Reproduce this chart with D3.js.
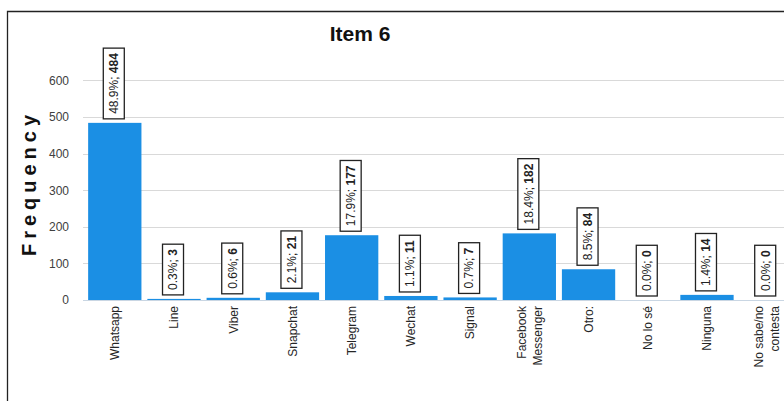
<html>
<head>
  <script src="https://d3js.org/d3.v7.min.js"></script>
  <style>
    body { margin: 0; padding: 0; background: #fff; }
    text { font-family: "Liberation Sans", Arial, sans-serif; }
  </style>
</head>
<body>
  <div id="chart"></div>
  <script>
// data
const categories = ["Whatsapp", "Line", "Viber", "Snapchat", "Telegram", "Wechat", "Signal",
  "Facebook\nMessenger", "Otro:", "No lo sé", "Ninguna", "No sabe/no\ncontesta"];
const counts = [484, 3, 6, 21, 177, 11, 7, 182, 84, 0, 14, 0];
const percents = ["48.9%", "0.3%", "0.6%", "2.1%", "17.9%", "1.1%", "0.7%", "18.4%", "8.5%", "0.0%", "1.4%", "0.0%"];
const yTicks = [0, 100, 200, 300, 400, 500, 600];

const width = 784, height = 401;
const barColor = "#1b8fe4";

const svg = d3.select("#chart").append("svg")
  .attr("width", width)
  .attr("height", height);

svg.append("rect").attr("width", width).attr("height", height).attr("fill", "#fff");

// outer frame (cut off on the right and bottom)
svg.append("path")
  .attr("d", "M7.5,401 V11.5 H784")
  .attr("fill", "none")
  .attr("stroke", "#222")
  .attr("stroke-width", 1.3);

const x = d3.scaleBand()
  .domain(categories)
  .range([84, 797])
  .paddingInner(0.1)
  .paddingOuter(0.07);

const y = d3.scaleLinear()
  .domain([0, 600])
  .range([300, 80.4]);

// gridlines
svg.append("g")
  .selectAll("line")
  .data(yTicks)
  .enter()
  .append("line")
  .attr("x1", 83)
  .attr("x2", width)
  .attr("y1", d => Math.round(y(d)) + 0.5)
  .attr("y2", d => Math.round(y(d)) + 0.5)
  .attr("stroke", d => d === 0 ? "#c9d6e3" : "#d9d9d9")
  .attr("stroke-width", 1);

// y axis tick labels
const yAxis = d3.axisLeft(y).tickValues(yTicks).tickSize(0).tickPadding(0);
const gy = svg.append("g")
  .attr("transform", "translate(69,0)")
  .call(yAxis);
gy.select(".domain").remove();
gy.selectAll("text")
  .style("font-family", "'Liberation Sans', Arial, sans-serif")
  .style("font-size", "12px")
  .attr("fill", "#404040");

// bars
svg.append("g")
  .selectAll("rect")
  .data(categories)
  .enter()
  .append("rect")
  .attr("x", d => x(d))
  .attr("width", x.bandwidth())
  .attr("y", (d, i) => y(counts[i]))
  .attr("height", (d, i) => y(0) - y(counts[i]))
  .attr("fill", barColor);

// data label boxes
const labels = svg.append("g")
  .selectAll("g")
  .data(categories)
  .enter()
  .append("g")
  .attr("transform", (d, i) => `translate(${x(d) + x.bandwidth() / 2 - 1},${y(counts[i]) - 4}) rotate(-90)`);

labels.each(function (d, i) {
  const g = d3.select(this);
  const box = g.append("rect");
  const t = g.append("text")
    .attr("x", 5)
    .attr("y", 0)
    .attr("dy", "0.36em")
    .style("font-size", "12px")
    .attr("fill", "#222");
  t.append("tspan").text(percents[i] + "; ");
  t.append("tspan").attr("font-weight", "bold").text(counts[i]);
  const len = t.node().getComputedTextLength();
  box.attr("x", 0)
    .attr("y", -10.5)
    .attr("width", len + 10)
    .attr("height", 21)
    .attr("fill", "#fff")
    .attr("stroke", "#222")
    .attr("stroke-width", 1.3);
});

// x category labels
const xl = svg.append("g")
  .selectAll("text")
  .data(categories)
  .enter()
  .append("text")
  .attr("transform", d => `translate(${x(d) + x.bandwidth() / 2},306) rotate(-90)`)
  .attr("text-anchor", "end")
  .style("font-size", "12px")
  .attr("fill", "#262626");

xl.each(function (d) {
  const lines = d.split("\n");
  const t = d3.select(this);
  lines.forEach((line, k) => {
    const off = lines.length === 1 ? 0 : (k === 0 ? -8 : 8);
    t.append("tspan")
      .attr("x", 0)
      .attr("y", off)
      .attr("dy", "0.36em")
      .text(line);
  });
});

// title
svg.append("text")
  .attr("x", 360)
  .attr("y", 41)
  .attr("text-anchor", "middle")
  .style("font-size", "21px")
  .style("font-weight", "bold")
  .attr("fill", "#111")
  .text("Item 6");

// y axis title
svg.append("text")
  .attr("transform", "translate(36,183) rotate(-90)")
  .attr("text-anchor", "middle")
  .style("font-size", "20px")
  .style("font-weight", "bold")
  .style("letter-spacing", "5px")
  .attr("fill", "#111")
  .text("Frequency");
</script>
</body>
</html>
